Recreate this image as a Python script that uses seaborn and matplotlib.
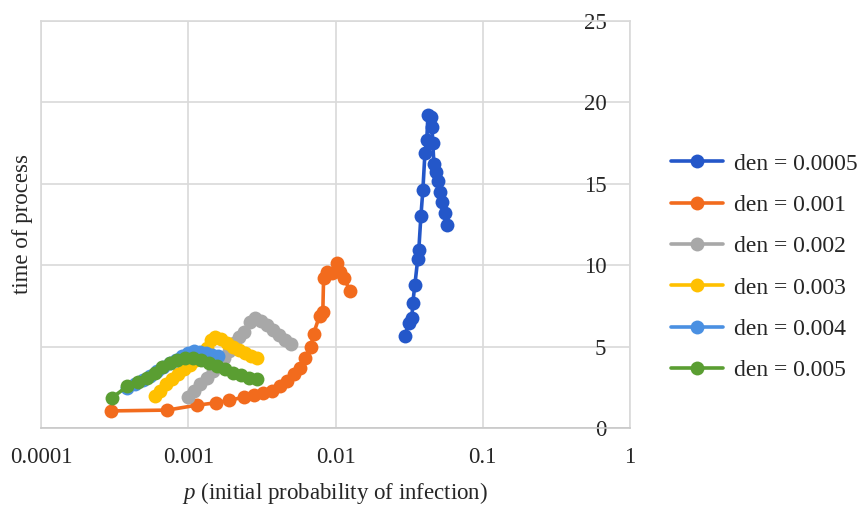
import matplotlib
matplotlib.use("Agg")
import matplotlib.pyplot as plt
import seaborn as sns
import pandas as pd

# ---- data ----
den_labels = ["den = 0.0005", "den = 0.001", "den = 0.002",
              "den = 0.003", "den = 0.004", "den = 0.005"]

p_0005 = [0.0296, 0.0315, 0.0330, 0.0335, 0.0346, 0.0362, 0.0368, 0.0380, 0.0392,
          0.0405, 0.0417, 0.0424, 0.0444, 0.0452, 0.0458, 0.0466, 0.0480, 0.0496,
          0.0512, 0.0530, 0.0550, 0.0575]
t_0005 = [5.65, 6.45, 6.75, 7.7, 8.8, 10.4, 10.95, 13.0, 14.6,
          16.9, 17.7, 19.2, 19.1, 18.5, 17.5, 16.2, 15.7, 15.2,
          14.5, 13.9, 13.2, 12.5]

p_001 = [0.0003, 0.00072, 0.00114, 0.00155, 0.0019, 0.0024, 0.0028, 0.0032, 0.0037,
         0.0042, 0.0047, 0.0052, 0.0057, 0.0062, 0.0068, 0.0071, 0.0078, 0.0082,
         0.0083, 0.0088, 0.0095, 0.0102, 0.0108, 0.0115, 0.0125]
t_001 = [1.05, 1.1, 1.4, 1.55, 1.7, 1.9, 2.05, 2.15, 2.3,
         2.55, 2.9, 3.3, 3.7, 4.3, 5.0, 5.8, 6.9, 7.1,
         9.2, 9.6, 9.5, 10.15, 9.6, 9.2, 8.4]

p_002 = [0.000995, 0.00109, 0.0012, 0.00134, 0.00147, 0.00162, 0.00175, 0.00189,
         0.00204, 0.00221, 0.00239, 0.00262, 0.00284, 0.00312, 0.00342, 0.00376,
         0.00413, 0.00453, 0.00498]
t_002 = [1.9, 2.3, 2.7, 3.1, 3.5, 3.9, 4.3, 4.7,
         5.2, 5.6, 5.9, 6.5, 6.75, 6.6, 6.3, 6.0,
         5.7, 5.4, 5.15]

p_003 = [0.00059, 0.000643, 0.000706, 0.000775, 0.000851, 0.000935, 0.00103, 0.00113,
         0.00124, 0.00134, 0.00143, 0.00152, 0.00167, 0.00183, 0.00201, 0.00221,
         0.00243, 0.00267, 0.00293]
t_003 = [1.95, 2.3, 2.7, 3.0, 3.3, 3.6, 3.9, 4.2,
         4.5, 4.9, 5.4, 5.6, 5.45, 5.25, 5.0, 4.8,
         4.6, 4.45, 4.3]

p_004 = [0.000384, 0.000434, 0.000492, 0.000549, 0.000613, 0.000673, 0.000751, 0.000826,
         0.000906, 0.000995, 0.00109, 0.0012, 0.00132, 0.00145, 0.00159]
t_004 = [2.45, 2.7, 2.95, 3.2, 3.5, 3.75, 4.0, 4.2,
         4.45, 4.6, 4.7, 4.65, 4.6, 4.5, 4.4]

p_005 = [0.000303, 0.000384, 0.000456, 0.000525, 0.000594, 0.000662, 0.000751, 0.000838,
         0.00095, 0.00108, 0.00122, 0.00138, 0.00157, 0.00177, 0.00201, 0.00228,
         0.00258, 0.00293]
t_005 = [1.85, 2.55, 2.85, 3.1, 3.4, 3.75, 4.0, 4.2,
         4.3, 4.3, 4.2, 4.0, 3.8, 3.6, 3.4, 3.25,
         3.1, 3.0]

x_ticks = [0.0001, 0.001, 0.01, 0.1, 1]
x_tick_labels = ["0.0001", "0.001", "0.01", "0.1", "1"]
y_ticks = [0, 5, 10, 15, 20, 25]

colors = ["#2457C9", "#F26B1D", "#A8A8A8", "#FFC000", "#4A90E2", "#5A9E32"]

series = [(p_0005, t_0005), (p_001, t_001), (p_002, t_002),
          (p_003, t_003), (p_004, t_004), (p_005, t_005)]
frames = []
for lab, (px, ty) in zip(den_labels, series):
    frames.append(pd.DataFrame({"p": px, "t": ty, "series": lab}))
df = pd.concat(frames, ignore_index=True)

# ---- style ----
sns.set_style("white")
plt.rcParams["font.family"] = ["Liberation Serif", "DejaVu Serif"]
plt.rcParams["mathtext.fontset"] = "custom"
plt.rcParams["mathtext.it"] = "Liberation Serif:italic"
plt.rcParams["mathtext.rm"] = "Liberation Serif"

fig = plt.figure(figsize=(8.63, 5.07), dpi=100)
ax = fig.add_axes([41/863, 1 - 428/507, (630 - 41)/863, (428 - 21)/507])

sns.lineplot(data=df, x="p", y="t", hue="series", hue_order=den_labels,
             palette=colors, sort=False, estimator=None, units="series",
             marker="o", markersize=10, markeredgewidth=0, linewidth=2.6,
             ax=ax, legend=True)

ax.set_xscale("log")
ax.set_xlim(0.0001, 1)
ax.set_ylim(0, 25)
ax.set_xticks(x_ticks)
ax.set_xticklabels(x_tick_labels)
ax.minorticks_off()
ax.set_yticks(y_ticks)

ax.grid(True, color="#D9D9D9", linewidth=1.2)
ax.set_axisbelow(True)
for s in ["top", "left", "right"]:
    ax.spines[s].set_color("#D9D9D9")
    ax.spines[s].set_linewidth(1.2)
ax.spines["bottom"].set_color("#C8C8C8")
ax.spines["bottom"].set_linewidth(1.2)

ax.tick_params(axis="x", length=0, pad=14, labelsize=16.5)
ax.tick_params(axis="y", left=False, right=False, labelleft=False,
               labelright=True, length=0, pad=-17, labelsize=16.5)
for lab in ax.get_yticklabels():
    lab.set_horizontalalignment("right")

ax.set_xlabel(r"$p$ (initial probability of infection)", fontsize=16.5, labelpad=8)
ax.set_ylabel("time of process", fontsize=16.5, labelpad=6)
ax.yaxis.set_label_position("left")

# legend on the right
handles, labels = ax.get_legend_handles_labels()
ax.get_legend().remove()
fig.legend(handles, labels, loc="center left", bbox_to_anchor=(671/863, 0.473),
           frameon=False, fontsize=17, handlelength=2.2, handletextpad=0.45,
           labelspacing=0.84, borderpad=0, borderaxespad=0)

fig.savefig("out.png", dpi=100)
